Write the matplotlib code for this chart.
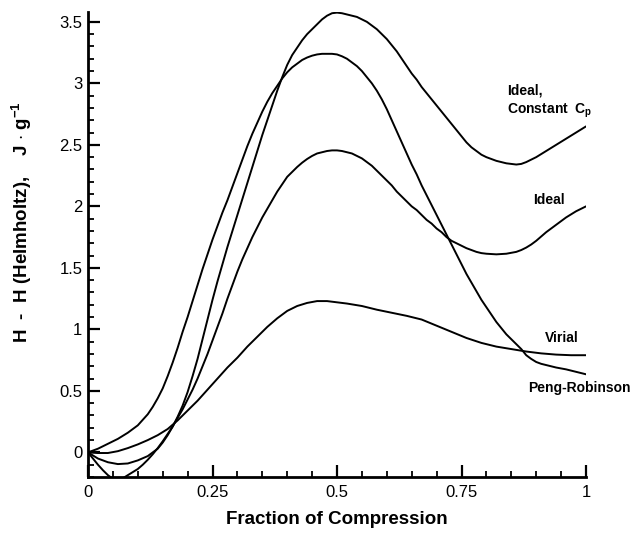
import matplotlib
matplotlib.use("Agg")
import matplotlib.pyplot as plt
from matplotlib.ticker import MultipleLocator

plt.rcParams['font.family'] = ['Liberation Sans', 'DejaVu Sans']
plt.rcParams['mathtext.fontset'] = 'custom'
plt.rcParams['mathtext.rm'] = 'Liberation Sans'
plt.rcParams['mathtext.bf'] = 'Liberation Sans:bold'
plt.rcParams['mathtext.default'] = 'bf'

# ---- data ----
x_ideal_cp = [0.0, 0.02, 0.04, 0.06, 0.08, 0.10, 0.12, 0.14, 0.15, 0.16, 0.17, 0.18, 0.19, 0.20,
              0.21, 0.22, 0.23, 0.24, 0.25, 0.26, 0.27, 0.28, 0.29, 0.30, 0.31, 0.32, 0.33, 0.34,
              0.35, 0.36, 0.37, 0.38, 0.39, 0.40, 0.41, 0.42, 0.43, 0.44, 0.45, 0.46, 0.47, 0.48,
              0.49, 0.50, 0.51, 0.52, 0.53, 0.54, 0.55, 0.56, 0.57, 0.58, 0.59, 0.60, 0.61, 0.62,
              0.63, 0.64, 0.65, 0.66, 0.67, 0.68, 0.69, 0.70, 0.71, 0.72, 0.73, 0.74, 0.75, 0.76,
              0.77, 0.78, 0.79, 0.80, 0.82, 0.84, 0.86, 0.87, 0.88, 0.90, 0.92, 0.94, 0.96, 0.98, 1.00]
y_ideal_cp = [0.0, -0.05, -0.08, -0.095, -0.09, -0.065, -0.03, 0.03, 0.08, 0.14, 0.21, 0.29, 0.38, 0.49,
              0.62, 0.76, 0.92, 1.08, 1.24, 1.39, 1.53, 1.67, 1.80, 1.93, 2.06, 2.19, 2.32, 2.45,
              2.58, 2.70, 2.82, 2.94, 3.05, 3.15, 3.23, 3.29, 3.35, 3.40, 3.44, 3.48, 3.52, 3.55,
              3.57, 3.575, 3.57, 3.56, 3.55, 3.54, 3.52, 3.50, 3.47, 3.44, 3.40, 3.36, 3.31, 3.26,
              3.20, 3.14, 3.08, 3.03, 2.97, 2.92, 2.87, 2.82, 2.77, 2.72, 2.67, 2.62, 2.57, 2.52,
              2.48, 2.45, 2.42, 2.40, 2.37, 2.35, 2.34, 2.345, 2.36, 2.40, 2.45, 2.50, 2.55, 2.60, 2.65]

x_ideal = [0.0, 0.01, 0.02, 0.03, 0.04, 0.05, 0.06, 0.07, 0.08, 0.09, 0.10, 0.11, 0.12, 0.13,
           0.14, 0.15, 0.16, 0.17, 0.18, 0.19, 0.20, 0.21, 0.22, 0.23, 0.24, 0.25, 0.26, 0.27,
           0.28, 0.29, 0.30, 0.31, 0.32, 0.33, 0.34, 0.35, 0.36, 0.37, 0.38, 0.39, 0.40, 0.41,
           0.42, 0.43, 0.44, 0.45, 0.46, 0.47, 0.48, 0.49, 0.50, 0.51, 0.52, 0.53, 0.54, 0.55,
           0.56, 0.57, 0.58, 0.59, 0.60, 0.61, 0.62, 0.63, 0.64, 0.65, 0.66, 0.67, 0.68, 0.69,
           0.70, 0.71, 0.72, 0.73, 0.74, 0.75, 0.76, 0.77, 0.78, 0.79, 0.80, 0.82, 0.84, 0.86,
           0.87, 0.88, 0.89, 0.90, 0.91, 0.92, 0.93, 0.94, 0.95, 0.96, 0.97, 0.98, 0.99, 1.00]
y_ideal = [0.0, -0.05, -0.10, -0.145, -0.185, -0.215, -0.225, -0.21, -0.185, -0.16, -0.135, -0.10, -0.06, -0.015,
           0.035, 0.09, 0.15, 0.21, 0.28, 0.35, 0.43, 0.51, 0.60, 0.70, 0.80, 0.91, 1.02, 1.13,
           1.25, 1.36, 1.47, 1.57, 1.66, 1.75, 1.83, 1.91, 1.98, 2.05, 2.12, 2.18, 2.24, 2.28,
           2.32, 2.355, 2.385, 2.41, 2.43, 2.44, 2.45, 2.455, 2.455, 2.45, 2.44, 2.43, 2.41, 2.39,
           2.36, 2.33, 2.29, 2.25, 2.21, 2.17, 2.12, 2.08, 2.04, 2.00, 1.97, 1.93, 1.89, 1.86,
           1.82, 1.79, 1.75, 1.72, 1.70, 1.68, 1.66, 1.645, 1.63, 1.62, 1.615, 1.61, 1.615, 1.63,
           1.645, 1.665, 1.69, 1.72, 1.755, 1.79, 1.82, 1.85, 1.88, 1.91, 1.935, 1.96, 1.98, 2.00]

x_peng = [0.0, 0.02, 0.04, 0.06, 0.08, 0.10, 0.12, 0.13, 0.14, 0.15, 0.16, 0.17, 0.18, 0.19,
          0.20, 0.21, 0.22, 0.23, 0.24, 0.25, 0.26, 0.27, 0.28, 0.29, 0.30, 0.31, 0.32, 0.33,
          0.34, 0.35, 0.36, 0.37, 0.38, 0.39, 0.40, 0.41, 0.42, 0.43, 0.44, 0.45, 0.46, 0.47,
          0.48, 0.49, 0.50, 0.51, 0.52, 0.53, 0.54, 0.55, 0.56, 0.57, 0.58, 0.59, 0.60, 0.61,
          0.62, 0.63, 0.64, 0.65, 0.66, 0.67, 0.68, 0.69, 0.70, 0.71, 0.72, 0.73, 0.74, 0.75,
          0.76, 0.77, 0.78, 0.79, 0.80, 0.81, 0.82, 0.83, 0.84, 0.85, 0.86, 0.87, 0.88, 0.89,
          0.90, 0.91, 0.92, 0.94, 0.96, 0.98, 1.00]
y_peng = [0.0, 0.03, 0.07, 0.11, 0.16, 0.22, 0.31, 0.37, 0.44, 0.52, 0.62, 0.73, 0.85, 0.98,
          1.10, 1.23, 1.36, 1.49, 1.61, 1.73, 1.84, 1.95, 2.05, 2.16, 2.27, 2.38, 2.49, 2.59,
          2.68, 2.77, 2.85, 2.92, 2.98, 3.04, 3.09, 3.13, 3.16, 3.19, 3.21, 3.225, 3.235, 3.24,
          3.24, 3.24, 3.235, 3.22, 3.20, 3.17, 3.14, 3.10, 3.05, 3.00, 2.94, 2.87, 2.79, 2.70,
          2.61, 2.52, 2.43, 2.34, 2.26, 2.17, 2.09, 2.01, 1.93, 1.85, 1.77, 1.69, 1.61, 1.53,
          1.45, 1.38, 1.31, 1.24, 1.18, 1.12, 1.06, 1.01, 0.96, 0.92, 0.88, 0.84, 0.79, 0.76,
          0.735, 0.72, 0.71, 0.69, 0.675, 0.655, 0.635]

x_virial = [0.0, 0.02, 0.04, 0.06, 0.08, 0.10, 0.12, 0.14, 0.16, 0.18, 0.20, 0.22, 0.24, 0.26,
            0.28, 0.30, 0.32, 0.34, 0.36, 0.38, 0.40, 0.42, 0.44, 0.46, 0.48, 0.50, 0.52, 0.55,
            0.58, 0.61, 0.64, 0.67, 0.70, 0.73, 0.76, 0.79, 0.82, 0.85, 0.88, 0.91, 0.94, 0.97, 1.00]
y_virial = [0.0, -0.005, -0.005, 0.01, 0.035, 0.065, 0.10, 0.14, 0.19, 0.26, 0.34, 0.42, 0.51, 0.60,
            0.69, 0.77, 0.86, 0.94, 1.02, 1.09, 1.15, 1.19, 1.215, 1.23, 1.23, 1.22, 1.21, 1.19,
            1.16, 1.135, 1.11, 1.08, 1.03, 0.98, 0.93, 0.89, 0.86, 0.84, 0.82, 0.805, 0.795, 0.79, 0.79]

x_ticks = [0, 0.25, 0.5, 0.75, 1]
x_tick_labels = ['0', '0.25', '0.5', '0.75', '1']
y_ticks = [0, 0.5, 1, 1.5, 2, 2.5, 3, 3.5]
y_tick_labels = ['0', '0.5', '1', '1.5', '2', '2.5', '3', '3.5']

# ---- figure ----
W, H = 632, 534
fig = plt.figure(figsize=(W / 100, H / 100), dpi=100)
ax = fig.add_axes([88 / W, 1 - 477 / H, (586 - 88) / W, (477 - 12) / H])

for xs, ys in [(x_ideal_cp, y_ideal_cp), (x_ideal, y_ideal), (x_peng, y_peng), (x_virial, y_virial)]:
    ax.plot(xs, ys, color='black', lw=1.4, solid_joinstyle='round', solid_capstyle='round')

ax.set_xlim(0, 1)
ax.set_ylim(-0.2, 3.58)

ax.spines['top'].set_visible(False)
ax.spines['right'].set_visible(False)
ax.spines['left'].set_linewidth(2.0)
ax.spines['bottom'].set_linewidth(2.0)

ax.set_xticks(x_ticks)
ax.set_xticklabels(x_tick_labels)
ax.set_yticks(y_ticks)
ax.set_yticklabels(y_tick_labels)
ax.xaxis.set_minor_locator(MultipleLocator(0.05))
ax.yaxis.set_minor_locator(MultipleLocator(0.1))
ax.tick_params(which='major', direction='in', length=8.5, width=1.6, labelsize=12)
ax.tick_params(which='minor', direction='in', length=4.5, width=1.3)
ax.tick_params(axis='x', which='major', pad=6)
ax.tick_params(axis='y', which='major', pad=4)

ax.set_xlabel('Fraction of Compression', fontsize=13.5, fontweight='bold', labelpad=8)
fig.text(22 / W, 1 - 222 / H, r'H  -  H (Helmholtz),    J $\cdot$ g$^{-1}$', rotation=90,
         fontsize=13.5, fontweight='bold', ha='center', va='center')

tk = dict(fontsize=10, fontweight='bold', color='black')
ax.text(0.841, 2.94, 'Ideal,', ha='left', va='center', **tk)
ax.text(0.841, 2.78, r'Constant  C$_{\mathbf{p}}$', ha='left', va='center', **tk)
ax.text(0.894, 2.05, 'Ideal', ha='left', va='center', **tk)
ax.text(0.918, 0.93, 'Virial', ha='left', va='center', **tk)
ax.text(0.884, 0.52, 'Peng-Robinson', ha='left', va='center', clip_on=False, **tk)

fig.savefig('out.png', dpi=100)
